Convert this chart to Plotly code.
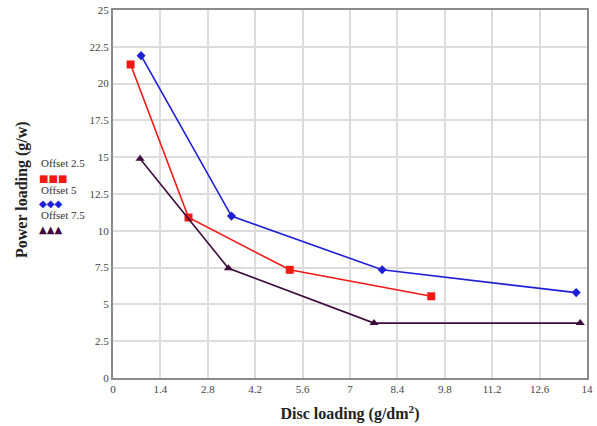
import plotly.graph_objects as go

x_off25 = [0.52, 2.23, 5.22, 9.4]
y_off25 = [21.3, 10.9, 7.35, 5.55]
x_off5 = [0.83, 3.5, 7.95, 13.68]
y_off5 = [21.9, 11.0, 7.35, 5.8]
x_off75 = [0.8, 3.41, 7.71, 13.8]
y_off75 = [14.9, 7.45, 3.73, 3.73]
x_ticks = [0, 1.4, 2.8, 4.2, 5.6, 7, 8.4, 9.8, 11.2, 12.6, 14]
y_ticks = [0, 2.5, 5, 7.5, 10, 12.5, 15, 17.5, 20, 22.5, 25]
series_names = ["Offset 2.5", "Offset 5", "Offset 7.5"]

RED = "#f01a14"
BLUE = "#1f1fd8"
PURPLE = "#3e0b3c"
FONT = "Liberation Serif"

L, R, T, B = 113, 10, 10, 48
PW, PH = 597 - L - R, 426 - T - B

def px(xp):
    return (xp - L) / PW

def py(yp):
    return 1 - (yp - T) / PH

fig = go.Figure()
fig.add_trace(go.Scatter(x=x_off25, y=y_off25, mode="lines+markers", name=series_names[0],
                         line=dict(color=RED, width=1.6),
                         marker=dict(symbol="square", size=8, color=RED)))
fig.add_trace(go.Scatter(x=x_off5, y=y_off5, mode="lines+markers", name=series_names[1],
                         line=dict(color=BLUE, width=1.6),
                         marker=dict(symbol="diamond", size=7, color=BLUE)))
fig.add_trace(go.Scatter(x=x_off75, y=y_off75, mode="lines+markers", name=series_names[2],
                         line=dict(color=PURPLE, width=1.6),
                         marker=dict(symbol="triangle-up", size=8, color=PURPLE)))

# legend drawn as text to match the stacked style
leg = [(series_names[0], "■■■", RED, 163, 178), (series_names[1], "◆◆◆", BLUE, 190, 203),
       (series_names[2], "▲▲▲", PURPLE, 215, 229)]
for name, sym, col, ty, sy in leg:
    fig.add_annotation(xref="paper", yref="paper", x=px(39), y=py(ty),
                       text=name, showarrow=False, xanchor="left", yanchor="middle",
                       font=dict(family=FONT, size=11, color="#333"))
    fig.add_annotation(xref="paper", yref="paper", x=px(37), y=py(sy),
                       text=sym, showarrow=False, xanchor="left", yanchor="middle",
                       font=dict(family="DejaVu Sans", size=10, color=col))

fig.add_annotation(xref="paper", yref="paper", x=px(22), y=py(190),
                   text="<b>Power loading (g/w)</b>", textangle=-90, showarrow=False,
                   xanchor="center", yanchor="middle",
                   font=dict(family=FONT, size=16, color="#222"))

axis_common = dict(showline=True, linecolor="#8a8a8a", linewidth=2, mirror=True,
                   showgrid=True, gridcolor="#dcdcdc", gridwidth=1.5, zeroline=False,
                   ticks="", automargin=False, tickfont=dict(family=FONT, size=11, color="#444"))
fig.update_xaxes(range=[0, 14], tickvals=x_ticks, ticktext=[f"{v:g}" for v in x_ticks],
                 title=dict(text="<b>Disc loading (g/dm<sup>2</sup>)</b>",
                            font=dict(family=FONT, size=16, color="#222"), standoff=14),
                 **axis_common)
fig.update_yaxes(range=[0, 25], tickvals=y_ticks, ticktext=[f"{v:g}" for v in y_ticks],
                 **axis_common)
fig.update_layout(width=597, height=426, showlegend=False,
                  margin=dict(l=L, r=R, t=T, b=B),
                  plot_bgcolor="white", paper_bgcolor="white")
fig.write_html("out.html")
